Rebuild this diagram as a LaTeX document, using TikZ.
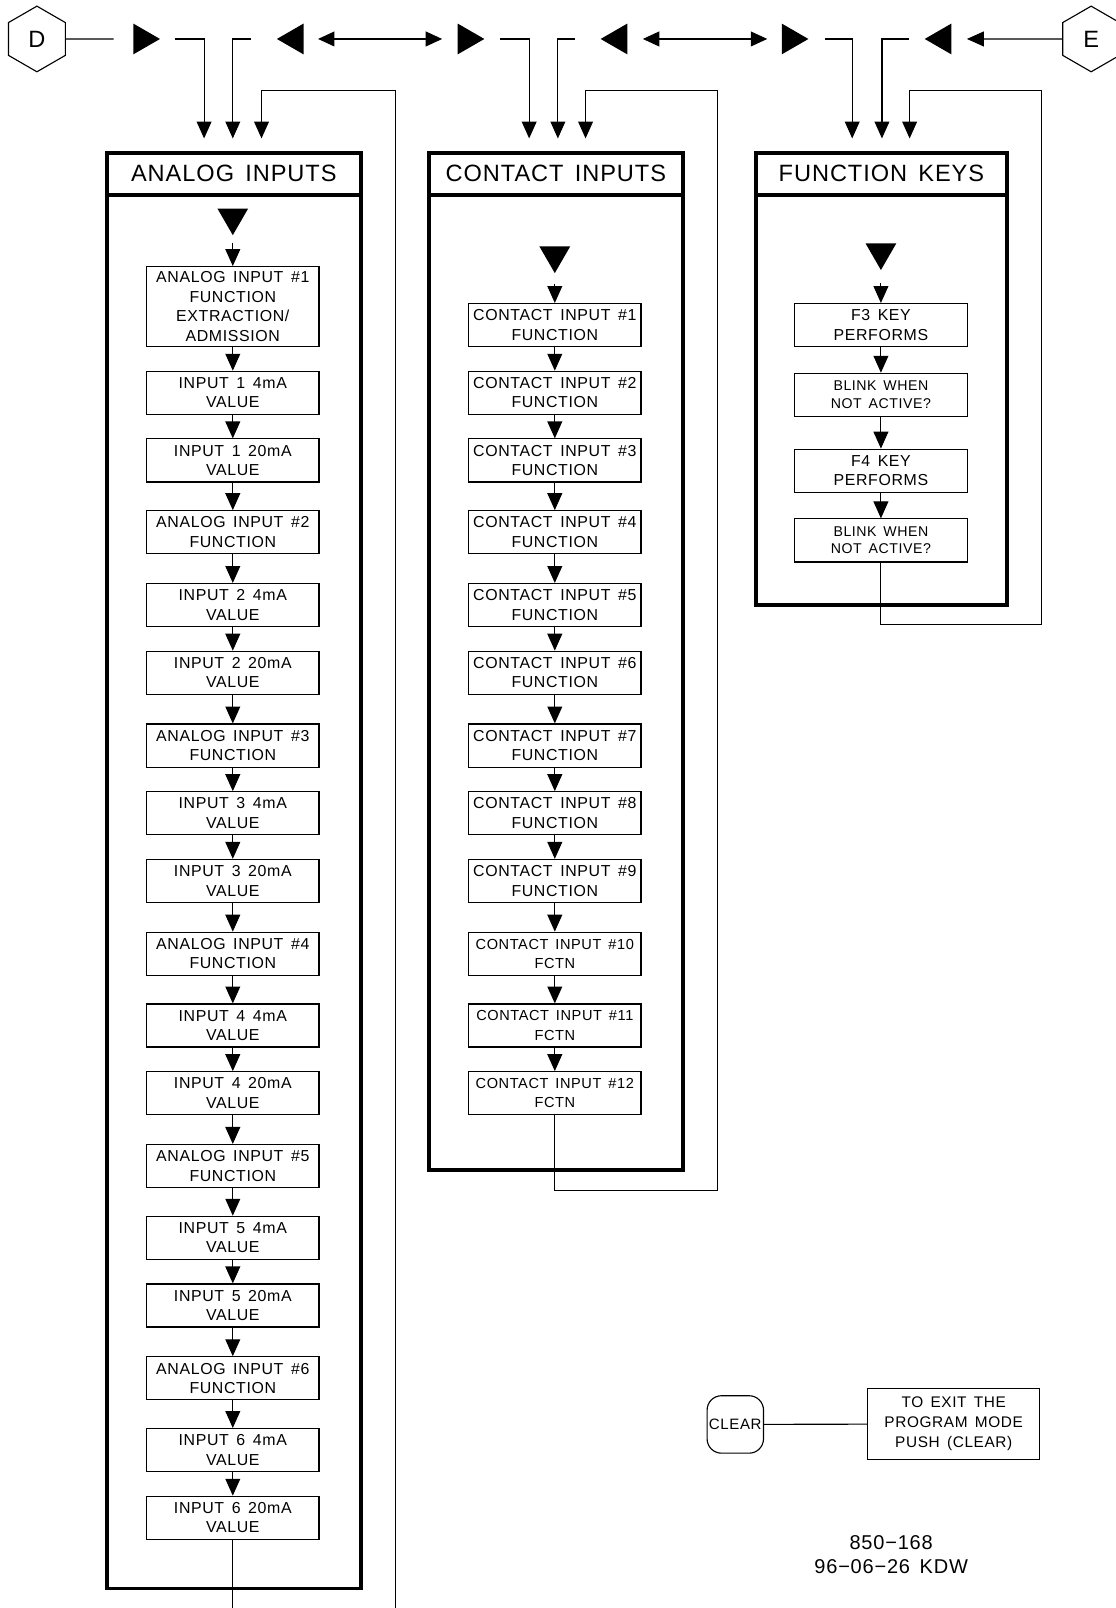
\documentclass[tikz,border=0pt]{standalone}
\usepackage{fontspec}
\setmainfont{Liberation Sans}[WordSpace=1.5,LetterSpace=4]
\usetikzlibrary{arrows.meta,shapes.geometric}
\newcommand{\boxfont}{\fontsize{15.5pt}{19pt}\selectfont}
\newcommand{\smallfont}{\fontsize{14.2pt}{19pt}\selectfont}
\newcommand{\blinkfont}{\fontsize{13.8pt}{17pt}\selectfont}
\newcommand{\titlefont}{\fontsize{23pt}{28pt}\selectfont}
\newcommand{\hexfont}{\fontsize{23pt}{28pt}\selectfont}

\begin{document}
\begin{tikzpicture}[x=1pt,y=-1pt,
  line/.style={line width=1.1pt},
  arr/.style={line,-{Triangle[width=14.5pt,length=16.5pt]}},
  dblarr/.style={line,{Triangle[width=14.5pt,length=16pt]}-{Triangle[width=14.5pt,length=16pt]}},
  stepbox/.style={draw,line width=1.1pt,minimum width=168pt,minimum height=42pt,inner sep=1pt,align=center,font=\boxfont},
  colhead/.style={draw,line width=3.6pt,minimum width=248pt,minimum height=41pt,inner sep=0pt,font=\titlefont},
  colbody/.style={draw,line width=3.6pt,minimum width=248pt,inner sep=0pt},
  tri/.style={regular polygon,regular polygon sides=3,fill,minimum size=34.6pt,inner sep=0pt},
  hexa/.style={regular polygon,regular polygon sides=6,shape border rotate=30,draw,line width=1.1pt,minimum size=64pt,inner sep=0pt,font=\hexfont}]
  \useasboundingbox (0,0) rectangle (1088,1568);
  % connectors D and E with the switch triangles
  \node[hexa] (D) at (36,38) {D};
  \node[hexa] (E) at (1064,38) {E};
  \node[tri,shape border rotate=270] (t1) at (138.7,38) {};
  \node[tri,shape border rotate=90] (t2) at (287.3,38) {};
  \node[tri,shape border rotate=270] (t3) at (455,38) {};
  \node[tri,shape border rotate=90] (t4) at (603,38) {};
  \node[tri,shape border rotate=270] (t5) at (771,38) {};
  \node[tri,shape border rotate=90] (t6) at (919,38) {};
  \coordinate (a1) at (199,135); \coordinate (a2) at (227,135); \coordinate (a3) at (255,135);
  \coordinate (a4) at (516,135); \coordinate (a5) at (544,135); \coordinate (a6) at (571,135);
  \coordinate (a7) at (831,135); \coordinate (a8) at (860,135); \coordinate (a9) at (887,135);

  % column frames
  \node[colhead] (ahead) at (228,169.5) {ANALOG INPUTS};
  \node[colbody,minimum height=1359pt] (abody) at (228,869.5) {};
  \node[colhead] (chead) at (542,169.5) {CONTACT INPUTS};
  \node[colbody,minimum height=951pt] (cbody) at (542,665.5) {};
  \node[colhead,minimum width=245pt] (fhead) at (859.5,169.5) {FUNCTION KEYS};
  \node[colbody,minimum width=245pt,minimum height=400pt] (fbody) at (859.5,390) {};

  % analog inputs
  \node[tri,shape border rotate=180] (ain) at (227,212) {};
  \node[stepbox,minimum height=78pt] (an1) at (227,299) {ANALOG INPUT \#1\\FUNCTION\\EXTRACTION/\\ADMISSION};
  \node[stepbox] (an2) at (227,383) {INPUT 1 4mA\\VALUE};
  \node[stepbox] (an3) at (227,449) {INPUT 1 20mA\\VALUE};
  \node[stepbox] (an4) at (227,519) {ANALOG INPUT \#2\\FUNCTION};
  \node[stepbox] (an5) at (227,590) {INPUT 2 4mA\\VALUE};
  \node[stepbox] (an6) at (227,656) {INPUT 2 20mA\\VALUE};
  \node[stepbox] (an7) at (227,727) {ANALOG INPUT \#3\\FUNCTION};
  \node[stepbox] (an8) at (227,793) {INPUT 3 4mA\\VALUE};
  \node[stepbox] (an9) at (227,859) {INPUT 3 20mA\\VALUE};
  \node[stepbox] (an10) at (227,930) {ANALOG INPUT \#4\\FUNCTION};
  \node[stepbox] (an11) at (227,1000) {INPUT 4 4mA\\VALUE};
  \node[stepbox] (an12) at (227,1066) {INPUT 4 20mA\\VALUE};
  \node[stepbox] (an13) at (227,1137) {ANALOG INPUT \#5\\FUNCTION};
  \node[stepbox] (an14) at (227,1207) {INPUT 5 4mA\\VALUE};
  \node[stepbox] (an15) at (227,1273) {INPUT 5 20mA\\VALUE};
  \node[stepbox] (an16) at (227,1344) {ANALOG INPUT \#6\\FUNCTION};
  \node[stepbox] (an17) at (227,1414) {INPUT 6 4mA\\VALUE};
  \node[stepbox] (an18) at (227,1480) {INPUT 6 20mA\\VALUE};

  % contact inputs
  \node[tri,shape border rotate=180] (cin) at (541,249) {};
  \node[stepbox] (cn1) at (541,317) {CONTACT INPUT \#1\\FUNCTION};
  \node[stepbox] (cn2) at (541,383) {CONTACT INPUT \#2\\FUNCTION};
  \node[stepbox] (cn3) at (541,449) {CONTACT INPUT \#3\\FUNCTION};
  \node[stepbox] (cn4) at (541,519) {CONTACT INPUT \#4\\FUNCTION};
  \node[stepbox] (cn5) at (541,590) {CONTACT INPUT \#5\\FUNCTION};
  \node[stepbox] (cn6) at (541,656) {CONTACT INPUT \#6\\FUNCTION};
  \node[stepbox] (cn7) at (541,727) {CONTACT INPUT \#7\\FUNCTION};
  \node[stepbox] (cn8) at (541,793) {CONTACT INPUT \#8\\FUNCTION};
  \node[stepbox] (cn9) at (541,859) {CONTACT INPUT \#9\\FUNCTION};
  \node[stepbox,font=\smallfont] (cn10) at (541,930) {CONTACT INPUT \#10\\FCTN};
  \node[stepbox,font=\smallfont] (cn11) at (541,1000) {CONTACT INPUT \#11\\FCTN};
  \node[stepbox,font=\smallfont] (cn12) at (541,1066) {CONTACT INPUT \#12\\FCTN};

  % function keys
  \node[tri,shape border rotate=180] (fin) at (859,246) {};
  \node[stepbox] (fn1) at (859,317) {F3 KEY\\PERFORMS};
  \node[stepbox,font=\blinkfont] (fn2) at (859,385) {BLINK WHEN\\NOT ACTIVE?};
  \node[stepbox] (fn3) at (859,459) {F4 KEY\\PERFORMS};
  \node[stepbox,font=\blinkfont] (fn4) at (859,527) {BLINK WHEN\\NOT ACTIVE?};

  % clear key and drawing number
  \node[draw,line width=1.1pt,rounded corners=14pt,minimum width=55pt,minimum height=56pt,inner sep=1pt,font=\fontsize{14.7pt}{18pt}\selectfont] (clr) at (717,1389) {CLEAR};
  \node[stepbox,minimum height=69pt,font=\fontsize{15pt}{19.5pt}\selectfont] (exitbox) at (930,1388.5) {TO EXIT THE\\PROGRAM MODE\\PUSH (CLEAR)};
  \node[align=center,font=\fontsize{19.5pt}{23pt}\selectfont] (dwgno) at (869,1516) {850−168\\96−06−26 KDW};

  % loop-back corners
  \coordinate (aend) at (227,1568); \coordinate (aout) at (386,1568); \coordinate (atop) at (386,88);
  \coordinate (cbot) at (700,1161); \coordinate (ctop) at (700,88);
  \coordinate (fbot) at (1016,609); \coordinate (ftop) at (1016,88);

  % top row
  \draw[line,shorten >=19pt] (D) -- (t1);
  \draw[arr,shorten <=14pt] (t1) -| (a1);
  \draw[arr,shorten <=25pt] (t2) -| (a2);
  \draw[dblarr,shorten <=14pt,shorten >=15pt] (t2) -- (t3);
  \draw[arr,shorten <=15pt] (t3) -| (a4);
  \draw[arr,shorten <=25pt] (t4) -| (a5);
  \draw[dblarr,shorten <=15pt,shorten >=14pt] (t4) -- (t5);
  \draw[arr,shorten <=16pt] (t5) -| (a7);
  \draw[arr,shorten <=15pt] (t6) -| (a8);
  \draw[arr,shorten >=15pt] (E) -- (t6);

  % analog chain
  \draw[arr,shorten <=7pt] (ain) -- (an1); \draw[arr] (an1) -- (an2); \draw[arr] (an2) -- (an3);
  \draw[arr] (an3) -- (an4); \draw[arr] (an4) -- (an5); \draw[arr] (an5) -- (an6);
  \draw[arr] (an6) -- (an7); \draw[arr] (an7) -- (an8); \draw[arr] (an8) -- (an9);
  \draw[arr] (an9) -- (an10); \draw[arr] (an10) -- (an11); \draw[arr] (an11) -- (an12);
  \draw[arr] (an12) -- (an13); \draw[arr] (an13) -- (an14); \draw[arr] (an14) -- (an15);
  \draw[arr] (an15) -- (an16); \draw[arr] (an16) -- (an17); \draw[arr] (an17) -- (an18);
  \draw[line] (an18) -- (aend);
  \draw[arr] (aout) -- (atop) -| (a3);

  % contact chain
  \draw[arr,shorten <=10pt] (cin) -- (cn1); \draw[arr] (cn1) -- (cn2); \draw[arr] (cn2) -- (cn3);
  \draw[arr] (cn3) -- (cn4); \draw[arr] (cn4) -- (cn5); \draw[arr] (cn5) -- (cn6);
  \draw[arr] (cn6) -- (cn7); \draw[arr] (cn7) -- (cn8); \draw[arr] (cn8) -- (cn9);
  \draw[arr] (cn9) -- (cn10); \draw[arr] (cn10) -- (cn11); \draw[arr] (cn11) -- (cn12);
  \draw[arr] (cn12) |- (cbot) -- (ctop) -| (a6);

  % function chain
  \draw[arr,shorten <=12pt] (fin) -- (fn1); \draw[arr] (fn1) -- (fn2);
  \draw[arr] (fn2) -- (fn3); \draw[arr] (fn3) -- (fn4);
  \draw[arr] (fn4) |- (fbot) -- (ftop) -| (a9);

  \draw[line] (clr) -- (exitbox);
\end{tikzpicture}
\end{document}
